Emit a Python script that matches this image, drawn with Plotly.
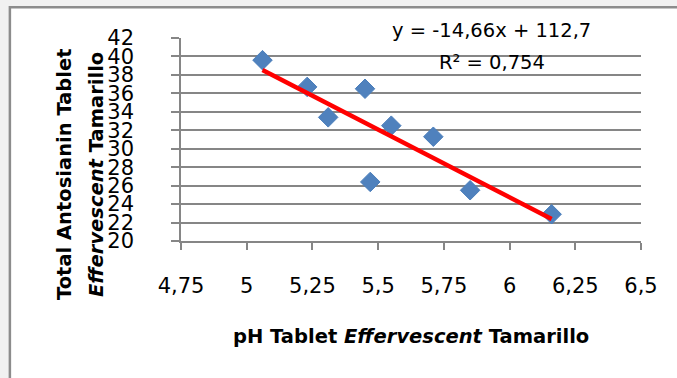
import plotly.graph_objects as go

# Data
ph_values = [5.06, 5.23, 5.31, 5.45, 5.47, 5.55, 5.71, 5.85, 6.16]
antosianin_values = [39.6, 36.7, 33.4, 36.5, 26.4, 32.5, 31.3, 25.5, 22.9]

# Trendline equation shown on the chart
SLOPE = -14.66
INTERCEPT = 112.7
R2 = 0.754
equation_text = "y = -14,66x + 112,7"
r2_text = "R² = 0,754"

x_title = "<b>pH Tablet <i>Effervescent</i> Tamarillo</b>"
y_title_line1 = "<b>Total Antosianin Tablet</b>"
y_title_line2 = "<b><i>Effervescent</i> Tamarillo</b>"

x_range = [4.75, 6.5]
y_range = [20, 42]

trend_x = [min(ph_values), max(ph_values)]
trend_y = [SLOPE * v + INTERCEPT for v in trend_x]

GRAY = "#868686"
FONT = "DejaVu Sans"
TICK_SIZE = 21

fig = go.Figure()
fig.add_trace(go.Scatter(
    x=ph_values, y=antosianin_values, mode="markers",
    marker=dict(symbol="diamond", size=15, color="#4F81BD",
                line=dict(width=1, color="#4A7EBB")),
    showlegend=False, hoverinfo="x+y",
))
fig.add_trace(go.Scatter(
    x=trend_x, y=trend_y, mode="lines",
    line=dict(color="#FF0000", width=4.5),
    showlegend=False, hoverinfo="skip",
))

fig.update_layout(
    width=677, height=378,
    margin=dict(l=181, r=36, t=38, b=137),
    paper_bgcolor="#f1f1f1",
    plot_bgcolor="rgba(0,0,0,0)",
    separators=",.",
    font=dict(family=FONT, size=19.5, color="black"),
    xaxis=dict(
        range=x_range, dtick=0.25, tick0=4.75,
        showgrid=False, zeroline=False,
        showline=True, linecolor=GRAY, linewidth=1.5,
        ticks="outside", ticklen=7, tickwidth=1.5, tickcolor=GRAY,
        ticklabelstandoff=18,
        tickfont=dict(family=FONT, size=TICK_SIZE, color="black"),
    ),
    yaxis=dict(
        range=y_range, dtick=2, tick0=20,
        showgrid=True, gridcolor=GRAY, gridwidth=1.5, zeroline=False,
        showline=True, linecolor=GRAY, linewidth=1.5,
        ticks="outside", ticklen=8, tickwidth=1.5, tickcolor=GRAY,
        ticklabelstandoff=33,
        tickfont=dict(family=FONT, size=TICK_SIZE, color="black"),
    ),
    shapes=[dict(
        type="rect", xref="paper", yref="paper",
        x0=-0.372, x1=1.3, y0=-0.9, y1=1.152,
        fillcolor="white", line=dict(color="#8c8c8c", width=2.5),
        layer="below",
    )],
    annotations=[
        dict(text=equation_text, xref="paper", yref="paper", x=0.676, y=1.039,
             xanchor="center", yanchor="middle", showarrow=False,
             font=dict(family=FONT, size=19.5, color="black")),
        dict(text=r2_text, xref="paper", yref="paper", x=0.676, y=0.877,
             xanchor="center", yanchor="middle", showarrow=False,
             font=dict(family=FONT, size=19.5, color="black")),
        dict(text=x_title, xref="paper", yref="paper", x=0.5, y=-0.468,
             xanchor="center", yanchor="middle", showarrow=False,
             font=dict(family=FONT, size=19.5, color="black")),
        dict(text=y_title_line1, xref="paper", yref="paper", x=-0.2543, y=0.33,
             xanchor="center", yanchor="middle", showarrow=False, textangle=-90,
             font=dict(family=FONT, size=19.5, color="black")),
        dict(text=y_title_line2, xref="paper", yref="paper", x=-0.1848, y=0.33,
             xanchor="center", yanchor="middle", showarrow=False, textangle=-90,
             font=dict(family=FONT, size=19.5, color="black")),
    ],
)

fig.write_html("out.html")
